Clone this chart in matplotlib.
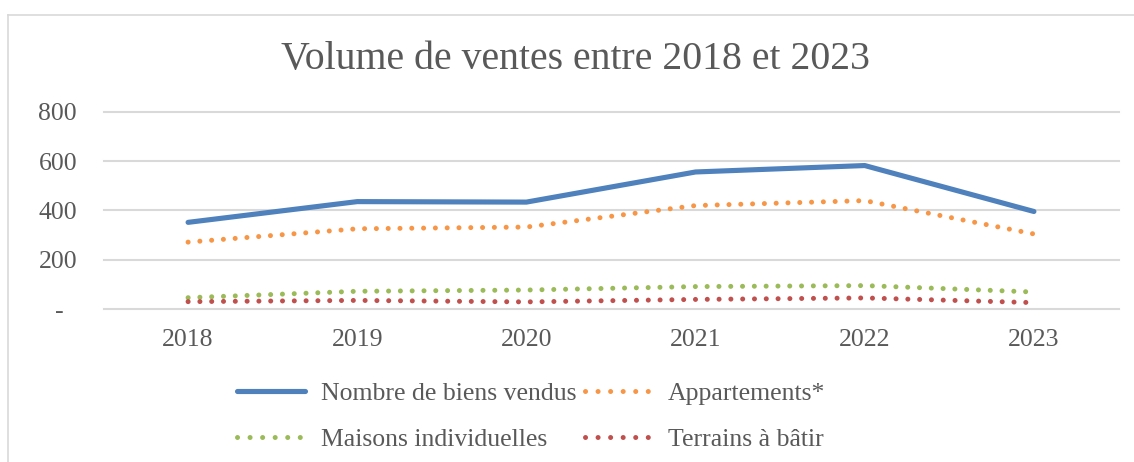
import matplotlib
matplotlib.use("Agg")
import matplotlib.pyplot as plt
from matplotlib.lines import Line2D

years = ["2018", "2019", "2020", "2021", "2022", "2023"]
total = [352, 436, 434, 556, 582, 396]
appartements = [272, 326, 333, 420, 440, 305]
maisons = [47, 73, 78, 92, 96, 70]
terrains = [31, 36, 30, 40, 46, 27]
series_labels = ["Nombre de biens vendus", "Appartements*", "Maisons individuelles", "Terrains à bâtir"]
y_ticks = [0, 200, 400, 600, 800]
y_ticklabels = ["-  ", "200", "400", "600", "800"]
title = "Volume de ventes entre 2018 et 2023"

plt.rcParams['font.family'] = ['Liberation Serif', 'DejaVu Serif']
txt = "#595959"
W, H = 1134, 462
fig = plt.figure(figsize=(W / 100, H / 100), dpi=100)

# chart frame (left and top border)
fig.add_artist(Line2D([8 / W, 8 / W], [0, 1 - 15 / H], color="#d9d9d9", lw=1.2))
fig.add_artist(Line2D([8 / W, 1], [1 - 15 / H, 1 - 15 / H], color="#d9d9d9", lw=1.2))

left, right = 103.5 / W, 1118.5 / W
bottom, top = 1 - 309.3 / H, 1 - 111.7 / H
ax = fig.add_axes([left, bottom, right - left, top - bottom])

x = list(range(len(years)))
dot = (0, (0.01, 2.35))
ax.plot(x, total, color="#4F81BD", lw=3.7, solid_capstyle="round", solid_joinstyle="round", zorder=5)
ax.plot(x, appartements, color="#F79646", lw=3.6, linestyle=dot, dash_capstyle="round", zorder=4)
ax.plot(x, maisons, color="#9BBB59", lw=3.6, linestyle=dot, dash_capstyle="round", zorder=4)
ax.plot(x, terrains, color="#C0504D", lw=3.6, linestyle=dot, dash_capstyle="round", zorder=4)

ax.set_xlim(-0.5, len(years) - 0.5)
ax.set_ylim(0, 800)
ax.set_yticks(y_ticks)
ax.set_yticklabels(y_ticklabels)
ax.set_xticks(x)
ax.set_xticklabels(years)
for s in ax.spines.values():
    s.set_visible(False)
ax.tick_params(axis="both", length=0, colors=txt, labelsize=18.5)
ax.tick_params(axis="y", pad=19)
ax.tick_params(axis="x", pad=14)
ax.grid(axis="y", color="#d9d9d9", lw=1.5)
for gl in ax.get_ygridlines():
    gl.set_clip_on(False)
ax.set_axisbelow(True)

fig.text(575 / W, 1 - 60 / H, title, ha="center", va="center", fontsize=28.6, color=txt)

ldot = (0, (0.01, 2.5))
handles = [
    Line2D([], [], color="#4F81BD", lw=3.7, solid_capstyle="round"),
    Line2D([], [], color="#9BBB59", lw=3.6, linestyle=ldot, dash_capstyle="round"),
    Line2D([], [], color="#F79646", lw=3.6, linestyle=ldot, dash_capstyle="round"),
    Line2D([], [], color="#C0504D", lw=3.6, linestyle=ldot, dash_capstyle="round"),
]
labels = [series_labels[0], series_labels[2], series_labels[1], series_labels[3]]
leg = fig.legend(handles, labels, ncol=2, loc="upper left", bbox_to_anchor=(237 / W, 1 - 382 / H),
                 frameon=False, fontsize=18.5, handlelength=2.65, handletextpad=0.6,
                 columnspacing=0.34, labelspacing=0.88, borderaxespad=0, borderpad=0)
for t in leg.get_texts():
    t.set_color(txt)

fig.savefig("out.png", dpi=100)
